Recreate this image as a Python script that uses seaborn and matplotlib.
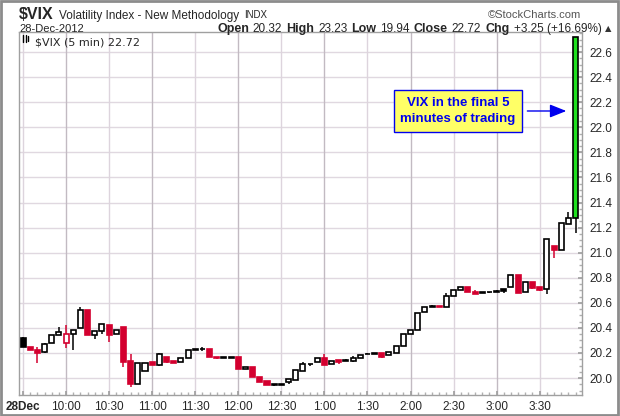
import numpy as np
import pandas as pd
import matplotlib
matplotlib.use("Agg")
import matplotlib.pyplot as plt
from matplotlib.patches import Rectangle, FancyArrowPatch
from matplotlib.lines import Line2D
import seaborn as sns

# $VIX 5-minute candles, 28-Dec-2012 (9:30 .. 3:55)
opens = [20.32, 20.25, 20.22, 20.21, 20.28, 20.34, 20.28, 20.35, 20.40, 20.54,
         20.345, 20.375, 20.42, 20.35, 20.41, 20.14, 19.95, 20.06, 20.13, 20.105,
         20.165, 20.135, 20.125, 20.16, 20.225, 20.23, 20.235, 20.17, 20.16, 20.16,
         20.165, 20.072, 20.09, 20.005, 19.975, 19.948, 19.946, 19.965, 19.985, 20.06,
         20.11, 20.125, 20.16, 20.11, 20.142, 20.145, 20.137, 20.162, 20.19, 20.197,
         20.197, 20.185, 20.20, 20.254, 20.354, 20.385, 20.523, 20.57, 20.575, 20.57,
         20.654, 20.70, 20.723, 20.687, 20.68, 20.688, 20.686, 20.708, 20.726, 20.823,
         20.685, 20.769, 20.723, 20.708, 21.054, 21.023, 21.23, 21.28]
highs = [20.33, 20.25, 20.25, 20.28, 20.34, 20.41, 20.42, 20.38, 20.57, 20.54,
         20.375, 20.43, 20.42, 20.38, 20.41, 20.19, 20.12, 20.12, 20.13, 20.20,
         20.17, 20.135, 20.16, 20.22, 20.23, 20.245, 20.235, 20.17, 20.16, 20.162,
         20.165, 20.092, 20.09, 20.01, 19.975, 19.948, 19.948, 19.995, 20.065, 20.13,
         20.115, 20.162, 20.195, 20.137, 20.142, 20.15, 20.175, 20.187, 20.20, 20.197,
         20.197, 20.205, 20.257, 20.354, 20.385, 20.515, 20.569, 20.585, 20.575, 20.675,
         20.70, 20.723, 20.723, 20.703, 20.69, 20.688, 20.70, 20.708, 20.823, 20.823,
         20.769, 20.769, 20.723, 21.108, 21.054, 21.238, 21.323, 22.72]
lows = [20.25, 20.22, 20.12, 20.20, 20.28, 20.34, 20.24, 20.22, 20.40, 20.34,
        20.31, 20.35, 20.29, 20.35, 20.09, 19.93, 19.95, 20.06, 20.105, 20.10,
        20.12, 20.12, 20.125, 20.16, 20.225, 20.215, 20.165, 20.15, 20.16, 20.16,
        20.07, 20.072, 20.005, 19.97, 19.946, 19.94, 19.946, 19.95, 19.985, 20.06,
        20.10, 20.125, 20.105, 20.11, 20.11, 20.135, 20.125, 20.162, 20.19, 20.19,
        20.157, 20.185, 20.20, 20.254, 20.354, 20.385, 20.523, 20.57, 20.57, 20.57,
        20.654, 20.70, 20.685, 20.669, 20.68, 20.68, 20.686, 20.68, 20.726, 20.682,
        20.685, 20.713, 20.695, 20.674, 20.956, 21.023, 21.23, 21.156]
closes = [20.25, 20.22, 20.20, 20.27, 20.34, 20.37, 20.35, 20.38, 20.54, 20.34,
          20.375, 20.43, 20.34, 20.38, 20.13, 19.95, 20.12, 20.12, 20.105, 20.19,
          20.13, 20.12, 20.16, 20.22, 20.23, 20.232, 20.165, 20.16, 20.162, 20.162,
          20.07, 20.092, 20.005, 19.97, 19.946, 19.946, 19.948, 19.99, 20.065, 20.11,
          20.115, 20.16, 20.105, 20.137, 20.125, 20.135, 20.162, 20.187, 20.192, 20.19,
          20.17, 20.205, 20.257, 20.349, 20.385, 20.515, 20.569, 20.575, 20.570, 20.654,
          20.70, 20.723, 20.685, 20.67, 20.682, 20.683, 20.687, 20.695, 20.823, 20.682,
          20.769, 20.72, 20.705, 21.108, 21.02, 21.238, 21.277, 22.72]
# k = black filled, r = red filled, h = hollow black, R = hollow red, g = highlighted
styles = list("krrhhhRhhrhhrhrrhhrhrrhhkkrrkkrhrrrkkhhhkhrhrkhhkkrhhhhhhkrhhhrrkkkkhrhrrhrhhg")

tick_pos = [0, 6, 12, 18, 24, 30, 36, 42, 48, 54, 60, 66, 72]
tick_labels = ["28Dec", "10:00", "10:30", "11:00", "11:30", "12:00", "12:30",
               "1:00", "1:30", "2:00", "2:30", "3:00", "3:30"]
y_ticks = [20.0, 20.2, 20.4, 20.6, 20.8, 21.0, 21.2, 21.4, 21.6, 21.8, 22.0, 22.2, 22.4, 22.6]

df = pd.DataFrame({"i": np.arange(len(opens)), "open": opens, "high": highs,
                   "low": lows, "close": closes, "style": styles})

sns.set_theme(style="white")
plt.rcParams["font.family"] = ["Liberation Sans", "DejaVu Sans"]

RED = "#d3002f"
W, H = 620, 416
fig = plt.figure(figsize=(6.2, 4.16), dpi=100)
ax = fig.add_axes([19 / W, 1 - 395 / H, (582 - 19) / W, (395 - 32) / H])

# grid
for v in y_ticks:
    ax.axhline(v, color="#e0d8e0", lw=1, zorder=0)
for p in tick_pos:
    c = "#c2bac2" if p in (6, 18, 30, 42, 54, 66) else "#ddd4dd"
    ax.axvline(p, color=c, lw=1, zorder=0)

fill = {"k": "black", "r": RED, "h": "white", "R": "white", "g": "#1fe01f"}
edge = {"k": "black", "r": RED, "h": "black", "R": RED, "g": "black"}
wick = {"k": "black", "r": RED, "h": "black", "R": RED, "g": "black"}

ax.vlines(df["i"], df["low"], df["high"], colors=[wick[s] for s in df["style"]], lw=1.1, zorder=2)
bottom = np.minimum(df["open"], df["close"])
height = np.maximum(np.abs(df["close"] - df["open"]), 0.005)
ax.bar(df["i"], height, bottom=bottom, width=0.7,
       color=[fill[s] for s in df["style"]], edgecolor=[edge[s] for s in df["style"]],
       linewidth=1.2, zorder=3)

ax.set_xlim(-0.56, 77.9)
ax.set_ylim(19.865, 22.76)
ax.yaxis.tick_right()
ax.set_yticks(y_ticks)
ax.set_yticklabels([f"{v:.1f}" for v in y_ticks])
ax.set_xticks(tick_pos)
ax.set_xticklabels(tick_labels)
ax.set_xticks(np.arange(0, 78), minor=True)
ax.set_yticks(np.arange(19.9, 22.76, 0.05), minor=True)
ax.tick_params(axis="y", which="major", right=True, direction="in", length=3,
               labelsize=8.5, pad=5, color="#a0a0a0")
ax.tick_params(axis="y", which="minor", right=True, direction="in", length=2, color="#b0b0b0")
ax.tick_params(axis="x", which="major", bottom=True, direction="in", length=3,
               labelsize=8.5, pad=4, color="#a0a0a0")
ax.tick_params(axis="x", which="minor", bottom=True, direction="in", length=2, color="#b0b0b0")
ax.get_xticklabels()[0].set_fontweight("bold")
for s in ax.spines.values():
    s.set_color("#a0a0a0")
    s.set_linewidth(1)
ax.set_xlabel("")
ax.set_ylabel("")

# annotation box and arrow
ax.text(60.6, 22.13, "VIX in the final 5\nminutes of trading", ha="center", va="center",
        color="#0000ee", fontsize=9.5, fontweight="bold", linespacing=1.5, zorder=6,
        bbox=dict(boxstyle="square,pad=0.5", fc="#ffff66", ec="#0000ee", lw=1))
ax.add_patch(FancyArrowPatch((69.9, 22.13), (76.1, 22.13), arrowstyle="-|>,head_length=10,head_width=4",
                             color="#0000ee", lw=1, mutation_scale=1, zorder=6))

# in-plot legend
ax.text(0.028, 0.985, "$VIX (5 min) 22.72", transform=ax.transAxes, ha="left", va="top",
        fontsize=8, family="DejaVu Sans", zorder=7)
fig.add_artist(Line2D([23 / W, 23 / W], [1 - 42 / H, 1 - 35 / H], color="black", lw=1))
fig.add_artist(Line2D([26 / W, 26 / W], [1 - 42 / H, 1 - 35 / H], color="black", lw=1))
fig.add_artist(Line2D([28 / W, 28 / W], [1 - 41 / H, 1 - 36 / H], color="black", lw=1))

# header
def ftext(x, y, s, **kw):
    return fig.text(x / W, 1 - y / H, s, va="center", **kw)

fig.canvas.draw()
r = fig.canvas.get_renderer()

x = 19
for txt, size, wt in [("$VIX", 11.5, "bold"), ("Volatility Index - New Methodology", 8.5, "normal"),
                      ("INDX", 7, "normal")]:
    t = ftext(x, 14.5 if wt == "bold" else 15.5, txt, fontsize=size, fontweight=wt)
    x = t.get_window_extent(r).x1 + 5
ftext(581, 15, "\u00a9StockCharts.com", fontsize=8, color="#555555", ha="right")
ftext(19, 29, "28-Dec-2012", fontsize=8)

x = 217
parts = [("Open", True), ("20.32", False), ("High", True), ("23.23", False),
         ("Low", True), ("19.94", False), ("Close", True), ("22.72", False),
         ("Chg", True), ("+3.25 (+16.69%)", False)]
for txt, b in parts:
    t = ftext(x, 29, txt, fontsize=9 if b else 8.5, fontweight="bold" if b else "normal")
    x = t.get_window_extent(r).x1 + 4
ftext(x, 29, "\u25b2", fontsize=6, family="DejaVu Sans", color="#333333")

fig.add_artist(Rectangle((0.002, 0.003), 0.995, 0.994, transform=fig.transFigure,
                         fill=False, ec="#8c8c8c", lw=2))

fig.savefig("out.png", dpi=100)
